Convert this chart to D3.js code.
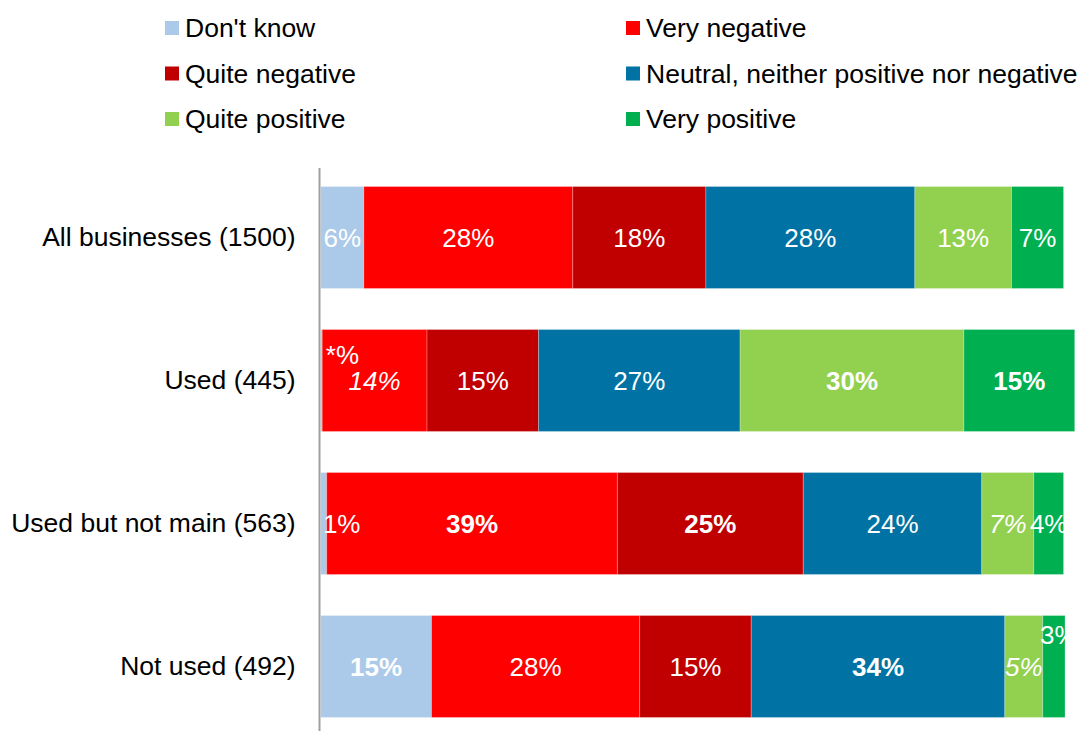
<!DOCTYPE html>
<html>
<head>
<meta charset="utf-8">
<script src="https://cdn.jsdelivr.net/npm/d3@7"></script>
<style>
    body { margin: 0; background: #fff; }
    svg { display: block; font-family: "Liberation Sans", Arial, sans-serif; }
</style>
</head>
<body>
<script>

// categories (rows, top to bottom)
var categories = ["All businesses (1500)", "Used (445)", "Used but not main (563)", "Not used (492)"];

// series names, in stacking order
var seriesNames = ["Don't know", "Very negative", "Quite negative",
    "Neutral, neither positive nor negative", "Quite positive", "Very positive"];

// values (%), one array per series, rows in category order
var dontKnow      = [5.8, 0.2, 0.8, 14.9];
var veryNegative  = [28.1, 14.1, 39.1, 28.0];
var quiteNegative = [17.9, 15.0, 25.0, 15.0];
var neutral       = [28.1, 27.1, 24.0, 34.1];
var quitePositive = [13.0, 30.1, 7.0, 5.1];
var veryPositive  = [7.0, 14.9, 4.0, 3.0];

var colors = ["#abc9e9", "#ff0000", "#c00000", "#0072a3", "#92d050", "#00b050"];

// how each label is written (n normal, b bold, i italic), rows x series
var labelStyle = [
    ["n", "n", "n", "n", "n", "n"],
    ["n", "i", "n", "n", "b", "b"],
    ["n", "b", "b", "n", "i", "n"],
    ["b", "n", "n", "b", "i", "n"]
];
// a few labels are nudged off the middle of their segment
var labelNudge = { "1-0": [21, -26], "2-0": [18, 0], "3-5": [5, -32] };

var allSeries = [dontKnow, veryNegative, quiteNegative, neutral, quitePositive, veryPositive];

var width = 1081, height = 731;

var svg = d3.select("body").append("svg")
    .attr("width", width)
    .attr("height", height);

var x = d3.scaleLinear()
    .domain([0, 100])
    .range([320.7, 1064.3]);

var y = d3.scaleBand()
    .domain(categories)
    .range([166, 738])
    .paddingInner(0.287)
    .paddingOuter(0.1435);

// build rows for the stack
var rows = categories.map(function (c, i) {
    var r = { cat: c };
    seriesNames.forEach(function (s, j) { r[s] = allSeries[j][i]; });
    return r;
});

var stacked = d3.stack().keys(seriesNames)(rows);

var groups = svg.selectAll("g.series")
    .data(stacked)
    .enter()
    .append("g")
    .attr("class", "series")
    .attr("fill", function (d, i) { return colors[i]; });

groups.selectAll("rect")
    .data(function (d) { return d; })
    .enter()
    .append("rect")
    .attr("x", function (d) { return x(d[0]); })
    .attr("y", function (d) { return y(d.data.cat); })
    .attr("width", function (d) { return x(d[1]) - x(d[0]); })
    .attr("height", y.bandwidth())
    .attr("stroke", "#ffffff")
    .attr("stroke-opacity", 0.25)
    .attr("stroke-width", 1);

// value labels
stacked.forEach(function (serie, j) {
    serie.forEach(function (d, i) {
        var v = d[1] - d[0];
        var txt = v < 0.5 ? "*%" : Math.round(v) + "%";
        var nudge = labelNudge[i + "-" + j] || [0, 0];
        var st = labelStyle[i][j];
        svg.append("text")
            .attr("x", (x(d[0]) + x(d[1])) / 2 + nudge[0])
            .attr("y", y(d.data.cat) + y.bandwidth() / 2 + nudge[1])
            .attr("dy", "0.36em")
            .attr("text-anchor", "middle")
            .attr("fill", "#ffffff")
            .style("font-size", "26px")
            .style("font-weight", st === "b" ? "bold" : "normal")
            .style("font-style", st === "i" ? "italic" : "normal")
            .text(txt);
    });
});

// category axis
var yAxis = d3.axisLeft(y).tickSize(0).tickPadding(24);
var yAxisGroup = svg.append("g")
    .attr("transform", "translate(319.5,0)")
    .call(yAxis);
yAxisGroup.select(".domain").remove();
yAxisGroup.selectAll("text")
    .style("font-size", "26.5px")
    .style("font-family", "Liberation Sans, Arial, sans-serif")
    .attr("fill", "#000");

svg.append("line")
    .attr("x1", 319.5).attr("x2", 319.5)
    .attr("y1", 168).attr("y2", height)
    .attr("stroke", "#a0a0a0")
    .attr("stroke-width", 2);

// legend: two columns, three rows
var legend = svg.selectAll("g.legend")
    .data(seriesNames)
    .enter()
    .append("g")
    .attr("class", "legend")
    .attr("transform", function (d, i) {
        var col = i % 2, row = Math.floor(i / 2);
        return "translate(" + (col === 0 ? 165 : 626) + "," + (28 + row * 45.5) + ")";
    });

legend.append("rect")
    .attr("x", 0)
    .attr("y", -7)
    .attr("width", 14)
    .attr("height", 14)
    .attr("fill", function (d, i) { return colors[i]; });

legend.append("text")
    .attr("x", 20)
    .attr("y", 0)
    .attr("dy", "0.35em")
    .style("font-size", "26.5px")
    .attr("fill", "#000")
    .text(function (d) { return d; });

</script>
</body>
</html>
